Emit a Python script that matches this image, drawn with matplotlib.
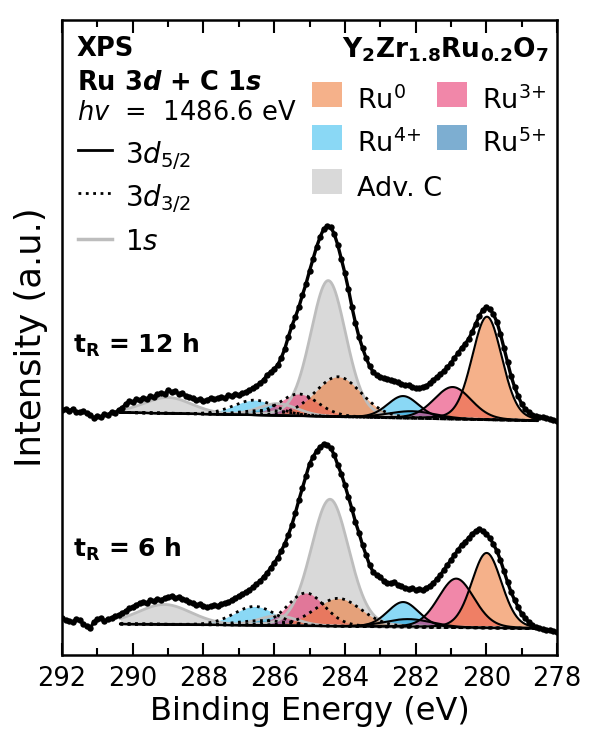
"""
XPS Ru 3d + C 1s spectra of Y2Zr1.8Ru0.2O7 after two reduction times
Measured points + fitted components (Ru0, Ru3+, Ru4+, Ru5+, adventitious C)
"""

import numpy as np
import matplotlib.pyplot as plt
from matplotlib.patches import Rectangle
from matplotlib.lines import Line2D

plt.rcParams['font.family'] = ['DejaVu Sans']
plt.rcParams['mathtext.fontset'] = 'dejavusans'

# Binding energy grid of the measured spectra (eV), 0.1 eV steps, 292 -> 278
energy = np.round(np.arange(292.0, 277.95, -0.1), 1)

# Measured intensity, t_R = 12 h (a.u., offset spectrum)
counts_12h = [
    245, 246, 244, 246, 243, 243, 244, 242, 240, 237,
    239, 238, 241, 240, 243, 242, 245, 247, 251, 254,
    253, 256, 255, 257, 256, 259, 258, 261, 262, 261,
    265, 263, 264, 261, 262, 259, 258, 257, 255, 256,
    254, 255, 257, 256, 257, 258, 257, 260, 259, 261,
    260, 262, 263, 265, 267, 269, 272, 275, 280, 283,
    286, 290, 297, 306, 318, 329, 338, 348, 360, 371,
    384, 396, 408, 418, 426, 429, 428, 421, 410, 396,
    382, 366, 348, 332, 318, 307, 297, 289, 283, 280,
    278, 277, 276, 275, 274, 273, 271, 270, 270, 268,
    267, 267, 268, 269, 272, 275, 278, 281, 284, 288,
    292, 297, 302, 307, 311, 316, 323, 331, 339, 345,
    348, 346, 341, 333, 321, 307, 293, 279, 268, 259,
    251, 246, 243, 240, 239, 238, 238, 237, 236, 235,
    234,
]

# Measured intensity, t_R = 6 h (a.u.)
counts_6h = [
    37, 35, 34, 33, 36, 35, 31, 29, 27, 33,
    36, 37, 34, 36, 37, 39, 40, 42, 44, 47,
    48, 50, 52, 53, 52, 55, 54, 56, 55, 57,
    58, 59, 57, 58, 56, 55, 53, 52, 50, 51,
    49, 48, 49, 50, 49, 51, 52, 53, 55, 57,
    59, 61, 63, 65, 68, 71, 74, 78, 82, 87,
    92, 97, 104, 111, 120, 130, 142, 155, 167, 179,
    191, 198, 204, 208, 211, 210, 207, 200, 190, 181,
    170, 158, 146, 133, 122, 110, 100, 90, 83, 80,
    78, 74, 72, 72, 73, 70, 69, 67, 66, 67,
    65, 66, 65, 67, 69, 72, 76, 80, 85, 90,
    95, 100, 105, 110, 113, 117, 121, 124, 126, 124,
    121, 117, 111, 104, 95, 84, 73, 63, 55, 48,
    41, 37, 33, 30, 28, 27, 26, 25, 25, 24,
    23,
]

# Fit window and linear background (intensity at 290.35 eV, at 278.55 eV)
fit_range = [290.35, 278.55]
bg_12h = [242.5, 234.3]
bg_6h = [31.0, 26.5]

# Ru components, order: Ru0, Ru3+, Ru4+, Ru5+
ru_labels = ['Ru$^{0}$', 'Ru$^{3{+}}$', 'Ru$^{4{+}}$', 'Ru$^{5{+}}$']
ru_colors = ['#EE7A35', '#E8306C', '#36BDEE', '#1F74B0']

# t_R = 12 h : 3d5/2 and 3d3/2 (center eV, height a.u., FWHM eV)
c52_12h = [279.98, 280.95, 282.35, 282.10]
h52_12h = [103, 32, 22, 7]
w52_12h = [1.00, 1.25, 1.05, 1.60]
c32_12h = [284.19, 285.30, 286.55, 286.20]
h32_12h = [40, 22, 15, 5]
w32_12h = [1.55, 1.30, 1.40, 1.70]
# adventitious carbon C 1s (C-C, C-O, O-C=O)
cc_12h = [284.47, 285.90, 289.00]
hc_12h = [136, 12, 16]
wc_12h = [1.18, 1.30, 1.60]

# t_R = 6 h
c52_6h = [279.99, 280.85, 282.35, 282.20]
h52_6h = [75, 49, 25, 8]
w52_6h = [1.00, 1.20, 1.05, 1.60]
c32_6h = [284.19, 285.10, 286.55, 286.30]
h32_6h = [28, 33, 19, 5]
w32_6h = [1.55, 1.25, 1.40, 1.70]
cc_6h = [284.42, 285.90, 289.10]
hc_6h = [127, 10, 20]
wc_6h = [1.27, 1.30, 1.80]

C_COLOR = '#BFBFBF'
ALPHA = 0.58


def pseudo_voigt(e, c, h, w, eta=0.15):
    s = w / 2.3548
    g = np.exp(-(e - c) ** 2 / (2 * s * s))
    l = 1.0 / (1.0 + ((e - c) / (w / 2)) ** 2)
    return h * ((1 - eta) * g + eta * l)


def draw_spectrum(ax, counts, bg, c52, h52, w52, c32, h32, w32, cc, hc, wc):
    e = np.linspace(fit_range[0], fit_range[1], 600)
    base = bg[1] + (e - fit_range[1]) / (fit_range[0] - fit_range[1]) * (bg[0] - bg[1])

    # Adventitious carbon
    for c, h, w in zip(cc, hc, wc):
        y = base + pseudo_voigt(e, c, h, w)
        ax.fill_between(e, base, y, color=C_COLOR, alpha=ALPHA, lw=0, zorder=1)
        ax.plot(e, y, color='#BDBDBD', lw=2, zorder=3)

    # Ru doublets, drawn from Ru5+ to Ru0
    for i in [3, 2, 1, 0]:
        y52 = base + pseudo_voigt(e, c52[i], h52[i], w52[i])
        y32 = base + pseudo_voigt(e, c32[i], h32[i], w32[i])
        ax.fill_between(e, base, y52, color=ru_colors[i], alpha=ALPHA, lw=0, zorder=2)
        ax.fill_between(e, base, y32, color=ru_colors[i], alpha=ALPHA, lw=0, zorder=2)
        ax.plot(e, y52, color='k', lw=1.5, zorder=4)
        ax.plot(e, y32, color='k', lw=2, ls=':', zorder=4)

    # Measured points
    ax.plot(energy, counts, color='k', lw=2.4, zorder=9)
    ax.plot(energy, counts, 'o', color='k', ms=4.6, mew=0, zorder=10)


fig = plt.figure(figsize=(5.9, 7.4), dpi=100)
ax = fig.add_axes([62 / 590, 85 / 740, 495 / 590, 635 / 740])

draw_spectrum(ax, counts_12h, bg_12h, c52_12h, h52_12h, w52_12h,
              c32_12h, h32_12h, w32_12h, cc_12h, hc_12h, wc_12h)
draw_spectrum(ax, counts_6h, bg_6h, c52_6h, h52_6h, w52_6h,
              c32_6h, h32_6h, w32_6h, cc_6h, hc_6h, wc_6h)

ax.set_xlim(292, 278)
ax.set_ylim(0, 635)
ax.set_xticks(np.arange(292, 277, -2))
ax.set_xticks(np.arange(291, 278, -2), minor=True)
ax.set_yticks([])
ax.tick_params(which='both', direction='in', top=True, bottom=True, width=1.5,
               labelsize=18.5, pad=8)
ax.tick_params(which='major', length=9)
ax.tick_params(which='minor', length=5)
for sp in ax.spines.values():
    sp.set_linewidth(1.8)
ax.set_xlabel('Binding Energy (eV)', fontsize=23, labelpad=3)
ax.set_ylabel('Intensity (a.u.)', fontsize=25.5, labelpad=10)


# helpers: pixel position of the reference picture -> axes fraction
def px(x):
    return (x - 62) / 495


def py(y):
    return (655 - y) / 635


tr = ax.transAxes

# Left block: measurement info + line-style key
ax.text(px(77), py(56.5), 'XPS', fontsize=18.5, fontweight='bold', transform=tr, va='baseline')
ax.text(px(77), py(90), r'Ru 3$\mathbfit{d}$ + C 1$\mathbfit{s}$', fontsize=18.5,
        fontweight='bold', transform=tr, va='baseline')
ax.text(px(77), py(120), r'$hv$  =  1486.6 eV', fontsize=18.5, transform=tr, va='baseline')

key_styles = [dict(color='k', lw=2, ls='-'),
              dict(color='k', lw=2, ls=':'),
              dict(color='#BDBDBD', lw=2.5, ls='-')]
key_labels = [r'3$d_{5/2}$', r'3$d_{3/2}$', r'1$s$']
key_line_y = [150, 193, 239]
key_text_y = [163, 206, 250]
for st, lab, ly, ty in zip(key_styles, key_labels, key_line_y, key_text_y):
    ax.add_line(Line2D([px(78), px(112)], [py(ly), py(ly)], transform=tr, clip_on=False, **st))
    ax.text(px(125), py(ty), lab, fontsize=20, transform=tr, va='baseline')

# Right block: sample + colour key
ax.text(px(549), py(58), r'Y$_\mathbf{2}$Zr$_\mathbf{1.8}$Ru$_\mathbf{0.2}$O$_\mathbf{7}$',
        fontsize=19, fontweight='bold', transform=tr, ha='right', va='baseline')

key_names = [ru_labels[0], ru_labels[1], ru_labels[2], ru_labels[3], 'Adv. C']
key_colors = [ru_colors[0], ru_colors[1], ru_colors[2], ru_colors[3], C_COLOR]
patch_x = [312, 437, 312, 437, 312]
patch_top = [82, 82, 125, 125, 169]
text_base = [109, 109, 152, 152, 196]
for name, col, x0, y0, yb in zip(key_names, key_colors, patch_x, patch_top, text_base):
    ax.add_patch(Rectangle((px(x0), py(y0 + 25)), 30 / 495, 25 / 635, transform=tr,
                           facecolor=col, alpha=ALPHA, lw=0, clip_on=False))
    ax.text(px(x0 + 45), py(yb), name, fontsize=19.5, transform=tr, va='baseline')

# Reduction time labels
ax.text(px(73), py(352.5), r't$_\mathbf{R}$ = 12 h', fontsize=18, fontweight='bold',
        transform=tr, va='baseline')
ax.text(px(73), py(556.5), r't$_\mathbf{R}$ = 6 h', fontsize=18, fontweight='bold',
        transform=tr, va='baseline')

fig.savefig('out.png', dpi=100)
